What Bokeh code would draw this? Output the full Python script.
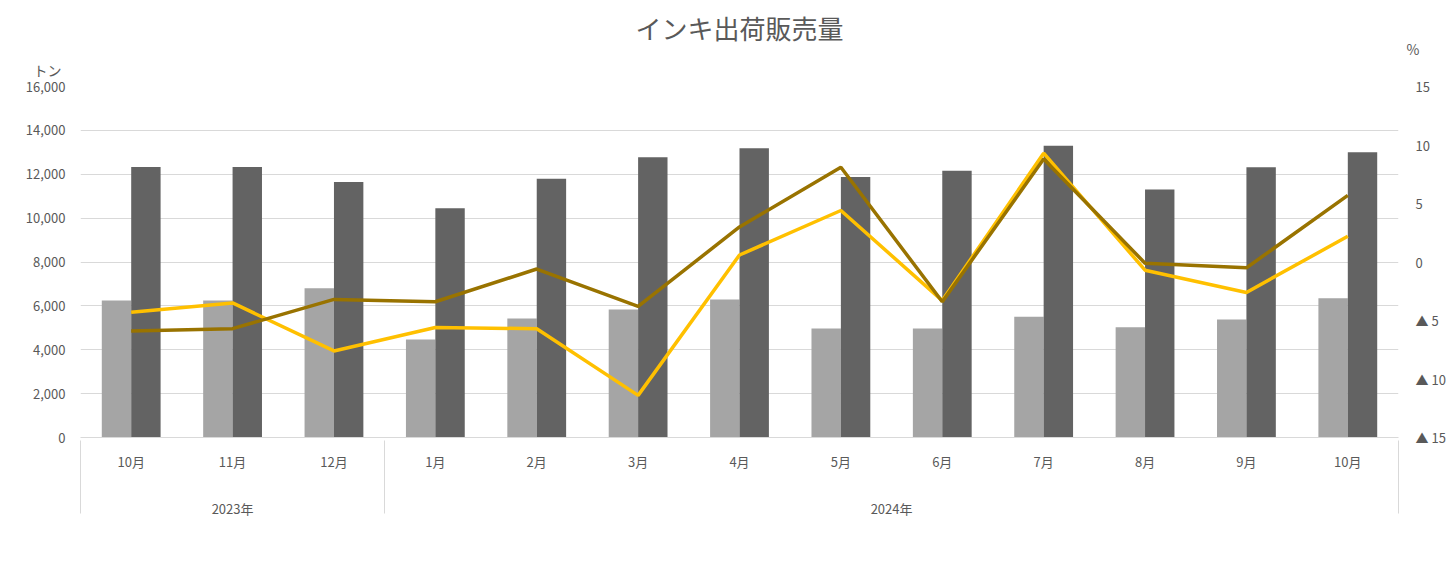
from bokeh.plotting import figure
from bokeh.models import (Range1d, LinearAxis, NumeralTickFormatter,
                          CustomJSTickFormatter, Legend, LegendItem, Title, ColumnDataSource,
                          FixedTicker)
from bokeh.transform import dodge
from bokeh.embed import file_html
from bokeh.resources import INLINE

years = ["2023年", "2023年", "2023年"] + ["2024年"] * 10
months = ["10月", "11月", "12月", "1月", "2月", "3月", "4月", "5月", "6月", "7月", "8月", "9月", "10月"]
offset_tons = [6250, 6250, 6800, 4470, 5430, 5830, 6290, 4970, 4970, 5500, 5030, 5380, 6350]
gravure_tons = [12330, 12330, 11650, 10450, 11800, 12780, 13180, 11870, 12160, 13300, 11300, 12320, 13000]
offset_yoy = [-4.3, -3.5, -7.6, -5.6, -5.7, -11.4, 0.6, 4.4, -3.3, 9.3, -0.7, -2.6, 2.2]
gravure_yoy = [-5.9, -5.7, -3.2, -3.4, -0.6, -3.8, 3.0, 8.1, -3.4, 8.8, -0.1, -0.5, 5.7]
year_groups = ["2023年", "2024年"]

FONT = "Noto Sans CJK JP"
TXT = "#595959"
GRID = "#d9d9d9"

# category slot positions (one unit per month)
xpos = [i + 0.5 for i in range(len(months))]
src = ColumnDataSource(dict(x=xpos, off=offset_tons, gra=gravure_tons,
                            offy=offset_yoy, gray=gravure_yoy))

group_bounds = [0]
for g in year_groups:
    group_bounds.append(group_bounds[-1] + years.count(g))
group_centers = [(a + b) / 2 for a, b in zip(group_bounds[:-1], group_bounds[1:])]

p = figure(title=None, x_range=Range1d(0, len(months)), y_range=Range1d(0, 16000),
           frame_width=1318, frame_height=351, output_backend="svg", toolbar_location=None,
           min_border_left=80, min_border_right=56, min_border_top=86, min_border_bottom=130)
p.extra_y_ranges = {"pct": Range1d(-15, 15)}

t_ton = Title(text="トン", align="left", offset=-47, standoff=14, text_font=FONT,
              text_font_size="14px", text_font_style="normal", text_color=TXT)
t_pct = Title(text="%", align="right", offset=-21, standoff=-17, text_font=FONT,
              text_font_size="14px", text_font_style="normal", text_color=TXT)
t_main = Title(text="インキ出荷販売量", align="center", standoff=0, text_font=FONT,
               text_font_size="26px", text_font_style="normal", text_color=TXT)
p.add_layout(t_ton, "above")
p.add_layout(t_pct, "above")
p.add_layout(t_main, "above")

p.outline_line_color = None
p.background_fill_color = "white"
p.border_fill_color = "white"

r1 = p.vbar(x=dodge("x", -0.145), top="off", width=0.29, source=src,
            fill_color="#a5a5a5", line_color=None)
r2 = p.vbar(x=dodge("x", 0.145), top="gra", width=0.29, source=src,
            fill_color="#636363", line_color=None)
r3 = p.line(x="x", y="offy", source=src, y_range_name="pct", line_color="#ffc000", line_width=3.5)
r4 = p.line(x="x", y="gray", source=src, y_range_name="pct", line_color="#997300", line_width=3.5)

# left axis
ya = p.yaxis[0]
ya.ticker = FixedTicker(ticks=list(range(0, 16001, 2000)))
ya.formatter = NumeralTickFormatter(format="0,0")
ya.axis_line_color = None
ya.major_tick_line_color = None
ya.minor_tick_line_color = None
ya.major_label_text_font = FONT
ya.major_label_text_font_size = "13px"
ya.major_label_text_color = TXT
ya.major_label_standoff = 9

p.ygrid.grid_line_color = GRID
p.ygrid.grid_line_width = 1
p.xgrid.grid_line_color = None

ra = LinearAxis(y_range_name="pct", ticker=FixedTicker(ticks=[-15, -10, -5, 0, 5, 10, 15]))
ra.formatter = CustomJSTickFormatter(code="return tick < 0 ? '▲ ' + Math.abs(tick) : String(tick);")
ra.axis_line_color = None
ra.major_tick_line_color = None
ra.minor_tick_line_color = None
ra.major_label_text_font = FONT
ra.major_label_text_font_size = "13px"
ra.major_label_text_color = TXT
ra.major_label_standoff = 11
p.add_layout(ra, "right")

# month axis
xa = p.xaxis[0]
xa.ticker = FixedTicker(ticks=xpos)
xa.major_label_overrides = {xv: m for xv, m in zip(xpos, months)}
xa.axis_line_color = GRID
xa.major_tick_line_color = None
xa.major_tick_out = 0
xa.major_tick_in = 0
xa.minor_tick_line_color = None
xa.major_label_text_font = FONT
xa.major_label_text_font_size = "13px"
xa.major_label_text_color = TXT
xa.major_label_standoff = 14

# year axis with group separators
yax = LinearAxis(ticker=FixedTicker(ticks=group_centers, minor_ticks=group_bounds))
yax.major_label_overrides = {c: g for c, g in zip(group_centers, year_groups)}
yax.axis_line_color = None
yax.major_tick_line_color = None
yax.major_tick_out = 0
yax.major_tick_in = 0
yax.minor_tick_line_color = GRID
yax.minor_tick_line_width = 1
yax.minor_tick_in = 33
yax.minor_tick_out = 40
yax.major_label_text_font = FONT
yax.major_label_text_font_size = "13px"
yax.major_label_text_color = TXT
yax.major_label_standoff = -15
p.add_layout(yax, "below")

# spacer between year labels and legend
sp = LinearAxis(ticker=FixedTicker(ticks=[]))
sp.axis_line_color = None
sp.major_tick_line_color = None
sp.minor_tick_line_color = None
sp.major_tick_in = 0
sp.major_tick_out = 20
sp.major_label_standoff = 0
sp.major_label_text_font_size = "0px"
p.add_layout(sp, "below")

legend = Legend(items=[
    LegendItem(label="平版（オフセット）インキ トン", renderers=[r1]),
    LegendItem(label="グラビアインキ トン", renderers=[r2]),
    LegendItem(label="平版（オフセット）インキ 前年同期比%", renderers=[r3]),
    LegendItem(label="グラビアインキ 前年同期比%", renderers=[r4]),
], orientation="horizontal", location="center")
legend.label_text_font = FONT
legend.label_text_font_size = "14px"
legend.label_text_color = TXT
legend.glyph_width = 30
legend.glyph_height = 8
legend.spacing = 44
legend.label_standoff = 4
legend.border_line_color = None
legend.background_fill_alpha = 0
legend.margin = 0
legend.padding = 5
p.add_layout(legend, "below")

open("out.html", "w").write(file_html(p, INLINE))
